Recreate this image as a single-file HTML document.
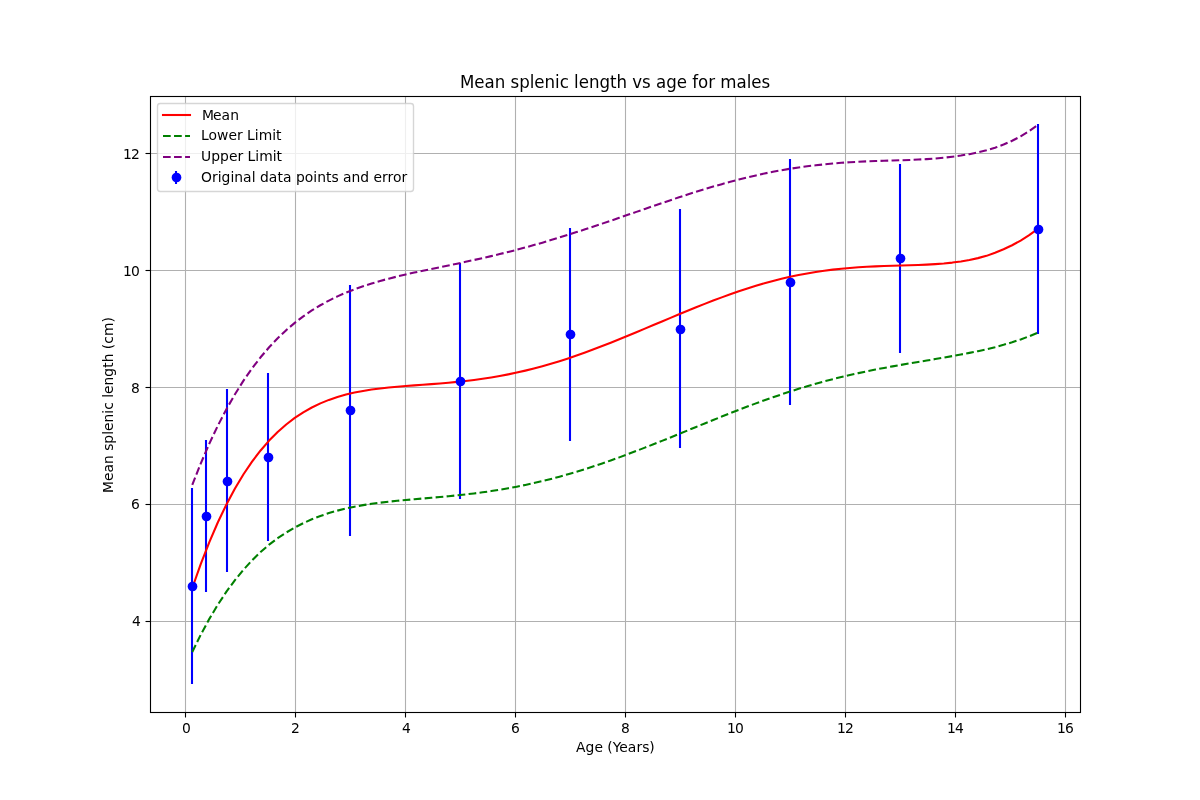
<!DOCTYPE html>
<html lang="en"><head><meta charset="utf-8"><title>Mean splenic length vs age for males</title>
<style>html,body{margin:0;padding:0;background:#fff;overflow:hidden}body{width:1200px;height:800px}svg{display:block}text{font-family:"DejaVu Sans","Liberation Sans",sans-serif;fill:#000;white-space:pre}</style></head><body>
<svg width="1200" height="800" viewBox="0 0 1200 800">
<rect x="0" y="0" width="1200" height="800" fill="#ffffff"/>
<g fill="none" stroke="#b0b0b0" stroke-width="1.1111" stroke-linecap="butt">
<path d="M185.50 712.50V96.50"/>
<path d="M295.50 712.50V96.50"/>
<path d="M405.50 712.50V96.50"/>
<path d="M515.50 712.50V96.50"/>
<path d="M625.50 712.50V96.50"/>
<path d="M735.50 712.50V96.50"/>
<path d="M845.50 712.50V96.50"/>
<path d="M955.50 712.50V96.50"/>
<path d="M1065.50 712.50V96.50"/>
<path d="M150.50 621.50H1080.50"/>
<path d="M150.50 504.50H1080.50"/>
<path d="M150.50 387.50H1080.50"/>
<path d="M150.50 270.50H1080.50"/>
<path d="M150.50 153.50H1080.50"/>
</g>
<g fill="none" stroke="#000" stroke-width="1.1111" stroke-linecap="butt">
<path d="M185.50 712.00v5.50"/>
<path d="M295.50 712.00v5.50"/>
<path d="M405.50 712.00v5.50"/>
<path d="M515.50 712.00v5.50"/>
<path d="M625.50 712.00v5.50"/>
<path d="M735.50 712.00v5.50"/>
<path d="M845.50 712.00v5.50"/>
<path d="M955.50 712.00v5.50"/>
<path d="M1065.50 712.00v5.50"/>
<path d="M151.00 621.50h-5.50"/>
<path d="M151.00 504.50h-5.50"/>
<path d="M151.00 387.50h-5.50"/>
<path d="M151.00 270.50h-5.50"/>
<path d="M151.00 153.50h-5.50"/>
</g>
<g fill="none" stroke="#0000ff" stroke-width="2.0833" stroke-linecap="butt">
<path d="M192.00 684.00V488.00"/>
<path d="M206.00 592.00V440.00"/>
<path d="M227.00 572.00V389.00"/>
<path d="M268.00 541.00V373.00"/>
<path d="M350.00 536.00V285.00"/>
<path d="M460.00 499.00V263.00"/>
<path d="M570.00 441.00V228.00"/>
<path d="M680.00 448.00V209.00"/>
<path d="M790.00 405.00V159.00"/>
<path d="M900.00 353.00V164.00"/>
<path d="M1038.00 334.00V124.00"/>
</g>
<polyline points="192.27,588.00 200.81,563.91 209.35,542.08 217.89,522.28 226.43,504.45 234.97,488.49 243.51,474.27 252.05,461.64 260.59,450.45 269.13,440.58 277.67,431.97 286.21,424.46 294.75,417.93 303.29,412.30 311.83,407.47 320.37,403.36 328.91,399.89 337.45,396.99 345.99,394.56 354.53,392.56 363.07,390.91 371.61,389.56 380.15,388.45 388.69,387.52 397.23,386.72 405.77,386.01 414.31,385.37 422.85,384.75 431.39,384.12 439.93,383.45 448.47,382.72 457.01,381.91 465.55,380.99 474.09,379.95 482.63,378.78 491.17,377.46 499.71,375.99 508.25,374.36 516.79,372.57 525.33,370.61 533.87,368.49 542.41,366.20 550.95,363.75 559.49,361.15 568.03,358.40 576.57,355.51 585.11,352.49 593.65,349.34 602.19,346.09 610.73,342.73 619.27,339.30 627.81,335.80 636.35,332.25 644.89,328.66 653.43,325.06 661.97,321.45 670.51,317.85 679.05,314.27 687.59,310.74 696.13,307.27 704.67,303.88 713.21,300.57 721.75,297.36 730.29,294.27 738.83,291.31 747.37,288.49 755.91,285.82 764.45,283.31 772.99,280.97 781.53,278.81 790.07,276.83 798.61,275.03 807.15,273.41 815.69,271.97 824.23,270.71 832.77,269.63 841.31,268.70 849.85,267.93 858.39,267.28 866.93,266.77 875.47,266.35 884.01,266.02 892.55,265.74 901.09,265.49 909.63,265.24 918.17,264.96 926.71,264.61 935.25,264.12 943.79,263.46 952.33,262.59 960.87,261.42 969.41,259.94 977.95,258.13 986.49,255.86 995.03,252.77 1003.57,249.25 1012.11,245.22 1020.65,240.56 1029.19,235.21 1037.73,228.91" fill="none" stroke="#ff0000" stroke-width="2.0833" stroke-linejoin="round" stroke-linecap="square"/>
<polyline points="192.27,651.96 200.81,634.62 209.35,618.87 217.89,604.59 226.43,591.70 234.97,580.09 243.51,569.66 252.05,560.34 260.59,552.04 269.13,544.68 277.67,538.22 286.21,532.55 294.75,527.55 303.29,523.13 311.83,519.30 320.37,515.98 328.91,513.10 337.45,510.62 345.99,508.50 354.53,506.69 363.07,505.15 371.61,503.84 380.15,502.70 388.69,501.71 397.23,500.82 405.77,500.01 414.31,499.24 422.85,498.49 431.39,497.76 439.93,497.00 448.47,496.21 457.01,495.36 465.55,494.43 474.09,493.42 482.63,492.31 491.17,491.09 499.71,489.74 508.25,488.28 516.79,486.68 525.33,484.94 533.87,483.08 542.41,481.08 550.95,478.94 559.49,476.67 568.03,474.27 576.57,471.74 585.11,469.08 593.65,466.31 602.19,463.43 610.73,460.44 619.27,457.36 627.81,454.19 636.35,450.95 644.89,447.64 653.43,444.27 661.97,440.86 670.51,437.41 679.05,433.93 687.59,430.45 696.13,426.95 704.67,423.47 713.21,420.01 721.75,416.58 730.29,413.19 738.83,409.85 747.37,406.58 755.91,403.39 764.45,400.29 772.99,397.28 781.53,394.36 790.07,391.54 798.61,388.83 807.15,386.24 815.69,383.76 824.23,381.41 832.77,379.18 841.31,377.06 849.85,375.03 858.39,373.11 866.93,371.29 875.47,369.57 884.01,367.93 892.55,366.36 901.09,364.86 909.63,363.39 918.17,361.96 926.71,360.54 935.25,359.09 943.79,357.59 952.33,356.07 960.87,354.52 969.41,352.89 977.95,351.15 986.49,349.25 995.03,347.14 1003.57,344.82 1012.11,342.28 1020.65,339.45 1029.19,336.26 1037.73,332.66" fill="none" stroke="#008000" stroke-width="2.0833" stroke-linejoin="round" stroke-linecap="butt" stroke-dasharray="7.7083 3.3333"/>
<polyline points="192.27,484.85 200.81,463.30 209.35,443.58 217.89,425.57 226.43,409.16 234.97,394.23 243.51,380.68 252.05,368.40 260.59,357.29 269.13,347.27 277.67,338.25 286.21,330.13 294.75,322.85 303.29,316.32 311.83,310.48 320.37,305.25 328.91,300.57 337.45,296.38 345.99,292.63 354.53,289.26 363.07,286.22 371.61,283.47 380.15,280.96 388.69,278.65 397.23,276.51 405.77,274.50 414.31,272.59 422.85,270.75 431.39,268.96 439.93,267.19 448.47,265.43 457.01,263.65 465.55,261.85 474.09,259.99 482.63,258.09 491.17,256.12 499.71,254.08 508.25,251.96 516.79,249.76 525.33,247.47 533.87,245.11 542.41,242.65 550.95,240.12 559.49,237.51 568.03,234.83 576.57,232.08 585.11,229.31 593.65,226.49 602.19,223.63 610.73,220.72 619.27,217.78 627.81,214.83 636.35,211.87 644.89,208.91 653.43,205.96 661.97,203.04 670.51,200.15 679.05,197.31 687.59,194.52 696.13,191.81 704.67,189.16 713.21,186.60 721.75,184.13 730.29,181.77 738.83,179.52 747.37,177.40 755.91,175.39 764.45,173.52 772.99,171.79 781.53,170.20 790.07,168.76 798.61,167.47 807.15,166.31 815.69,165.29 824.23,164.41 832.77,163.56 841.31,162.79 849.85,162.20 858.39,161.74 866.93,161.36 875.47,161.05 884.01,160.78 892.55,160.53 901.09,160.27 909.63,159.96 918.17,159.57 926.71,159.09 935.25,158.48 943.79,157.68 952.33,156.70 960.87,155.55 969.41,154.16 977.95,152.43 986.49,150.29 995.03,147.69 1003.57,144.56 1012.11,140.78 1020.65,136.33 1029.19,131.13 1037.73,125.12" fill="none" stroke="#800080" stroke-width="2.0833" stroke-linejoin="round" stroke-linecap="butt" stroke-dasharray="7.7083 3.3333"/>
<g fill="#0000ff" stroke="none">
<circle cx="192.50" cy="586.50" r="4.8611"/>
<circle cx="206.50" cy="516.50" r="4.8611"/>
<circle cx="227.50" cy="481.50" r="4.8611"/>
<circle cx="268.50" cy="457.50" r="4.8611"/>
<circle cx="350.50" cy="410.50" r="4.8611"/>
<circle cx="460.50" cy="381.50" r="4.8611"/>
<circle cx="570.50" cy="334.50" r="4.8611"/>
<circle cx="680.50" cy="329.50" r="4.8611"/>
<circle cx="790.50" cy="282.50" r="4.8611"/>
<circle cx="900.50" cy="258.50" r="4.8611"/>
<circle cx="1038.50" cy="229.50" r="4.8611"/>
</g>
<rect x="150.50" y="96.50" width="930.00" height="616.00" fill="none" stroke="#000" stroke-width="1.1111" stroke-linejoin="miter"/>
<text transform="translate(182.00 732.50)" x="0" y="0" font-size="13.8889">0</text>
<text transform="translate(291.00 732.50)" x="0" y="0" font-size="13.8889">2</text>
<text transform="translate(402.00 732.50)" x="0" y="0" font-size="13.8889">4</text>
<text transform="translate(511.00 732.50)" x="0" y="0" font-size="13.8889">6</text>
<text transform="translate(621.00 732.50)" x="0" y="0" font-size="13.8889">8</text>
<text transform="translate(727.00 732.50)" x="0 7.875" y="0" font-size="13.8889">10</text>
<text transform="translate(837.00 732.50)" x="0 7.875" y="0" font-size="13.8889">12</text>
<text transform="translate(947.00 732.50)" x="0 7.875" y="0" font-size="13.8889">14</text>
<text transform="translate(1057.00 732.50)" x="0 7.875" y="0" font-size="13.8889">16</text>
<text transform="translate(132.00 625.50)" x="0" y="0" font-size="13.8889">4</text>
<text transform="translate(131.00 508.50)" x="0" y="0" font-size="13.8889">6</text>
<text transform="translate(131.00 392.50)" x="0" y="0" font-size="13.8889">8</text>
<text transform="translate(123.00 275.50)" x="0 7.875" y="0" font-size="13.8889">10</text>
<text transform="translate(123.00 158.50)" x="0 7.875" y="0" font-size="13.8889">12</text>
<text transform="translate(576.00 751.50)" x="0 9.5 18.375 26.875 31.25 36.75 43.25 51.75 60.375 66.125 73.25" y="0" font-size="13.8889">Age (Years)</text>
<text transform="translate(112.50 493.00) rotate(-90)" x="0 12 20.5 29.125 37.875 42.25 49.375 58.25 62.125 70.625 79.375 83.25 90.875 95.25 99.125 107.625 116.375 125.25 130.75 139.5 143.875 149.375 157 170.5" y="0" font-size="13.8889">Mean splenic length (cm)</text>
<text transform="translate(460.00 87.50) scale(1 1.100)" x="0 14.375 24.625 34.75 45.25 50.5 59.25 69.75 74.375 84.625 95.125 99.75 108.875 114.125 118.75 129 139.5 150 156.5 167 172.25 182.125 190.875 196.125 206.25 216.75 227 232.25 238.125 248.25 255.125 260.375 276.625 286.75 291.375 301.625" y="0" font-size="16.6667">Mean splenic length vs age for males</text>
<rect x="157.5" y="103.5" width="256" height="88" rx="2.778" ry="2.778" fill="#ffffff" fill-opacity="0.8" stroke="#cccccc" stroke-opacity="0.8" stroke-width="1.3889"/>
<path d="M163 115H190" fill="none" stroke="#ff0000" stroke-width="2.0833" stroke-linecap="square"/>
<path d="M163 136H190" fill="none" stroke="#008000" stroke-width="2.0833" stroke-dasharray="7.7083 3.3333"/>
<path d="M163 157H190" fill="none" stroke="#800080" stroke-width="2.0833" stroke-dasharray="7.7083 3.3333"/>
<path d="M176 184V171" fill="none" stroke="#0000ff" stroke-width="2.0833"/>
<circle cx="176.5" cy="177.5" r="4.8611" fill="#0000ff"/>
<text transform="translate(202.00 119.50)" x="0 11 19.5 28.125" y="0" font-size="13.8889">Mean</text>
<text transform="translate(201.00 139.50)" x="0 7.5 16 27.375 35.875 41.625 46 53.75 57.625 71.125 75" y="0" font-size="13.8889">Lower Limit</text>
<text transform="translate(201.00 160.50)" x="0 10.125 19 27.875 36.375 42.125 46.5 54.25 58.125 71.625 75.5" y="0" font-size="13.8889">Upper Limit</text>
<text transform="translate(201.00 181.50)" x="0 10.875 16.625 20.5 29.375 33.25 42 50.625 54.5 58.875 67.75 76.375 81.875 90.5 94.875 103.75 112.25 116.125 124.875 130.375 137.5 141.875 150.5 159.25 168.125 172.5 181 186.5 192 200.5" y="0" font-size="13.8889">Original data points and error</text>
</svg></body></html>
